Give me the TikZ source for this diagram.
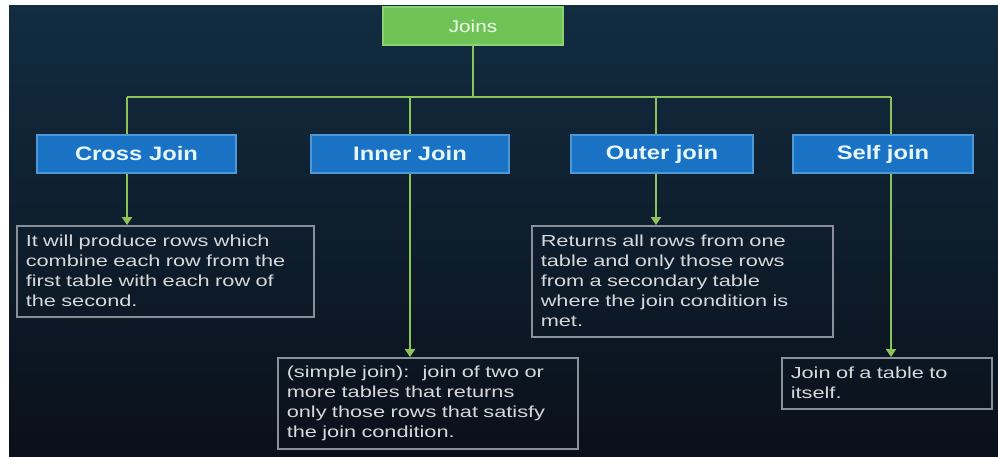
\documentclass[tikz,border=0pt]{standalone}
\usepackage{fontspec}
\setmainfont{Liberation Sans}
\newfontfamily\headfont{Liberation Sans}[FakeStretch=1.22]
\newfontfamily\descfont{Liberation Sans}[FakeStretch=1.36]
\usepackage{tikz}
\usetikzlibrary{arrows.meta}

\definecolor{bgtop}{HTML}{122C40}
\definecolor{bgmid}{HTML}{0F1F2D}
\definecolor{bgbot}{HTML}{0A101A}
\definecolor{linkgreen}{HTML}{8CC45A}
\definecolor{titlefill}{HTML}{70C457}
\definecolor{titledraw}{HTML}{8CD270}
\definecolor{typefill}{HTML}{1A72C4}
\definecolor{typedraw}{HTML}{4F98D6}
\definecolor{descdraw}{HTML}{8A9099}
\definecolor{desctext}{HTML}{D6D8DA}

\tikzset{
  link/.style={draw=linkgreen,line width=2pt},
  titlebox/.style={rectangle,fill=titlefill,draw=titledraw,line width=1.2pt,
    minimum width=180pt,minimum height=38pt,text=white!92!green,
    font=\headfont\fontsize{17}{20}\selectfont},
  typebox/.style={rectangle,fill=typefill,draw=typedraw,line width=1.5pt,
    minimum height=38pt,text=white!90!cyan,
    font=\headfont\bfseries\fontsize{19.5}{22}\selectfont},
  descbox/.style={rectangle,draw=descdraw,line width=1.5pt,anchor=north west,
    inner xsep=9pt,inner ysep=0pt,align=left,text=desctext,
    font=\descfont\fontsize{16}{20}\selectfont}
}

\begin{document}
\begin{tikzpicture}[>={Triangle[width=10pt,length=8pt]},x=1pt,y=-1pt]
  % Canvas
  \useasboundingbox (0,0) rectangle (998,457);
  \fill[white] (0,0) rectangle (998,457);
  \shade[top color=bgtop,middle color=bgmid,bottom color=bgbot]
    (9,6) rectangle (998,457);
  %
  % Drop points on the bus
  \coordinate (dCross) at (127,97);
  \coordinate (dInner) at (410,97);
  \coordinate (dOuter) at (656,97);
  \coordinate (dSelf)  at (891,97);
  %
  % Boxes
  \node[titlebox] (joins) at (473,26) {Joins};
  \node[typebox,minimum width=199pt] (cross) at (136.5,154) {Cross Join};
  \node[typebox,minimum width=198pt] (inner) at (410,154) {Inner Join};
  \node[typebox,minimum width=182pt] (outer) at (662,154) {Outer join};
  \node[typebox,minimum width=180pt] (self)  at (883,154) {Self join};
  %
  % Descriptions
  \node[descbox,text width=279pt,minimum height=91pt] (crossd) at (16,225)
    {It will produce rows which\\combine each row from the\\first table with each row of\\the second.};
  \node[descbox,text width=282pt,minimum height=91pt] (innerd) at (277,357)
    {(simple join):~ join of two or\\more tables that returns\\only those rows that satisfy\\the join condition.};
  \node[descbox,text width=283pt,minimum height=111pt] (outerd) at (531,225)
    {Returns all rows from one\\table and only those rows\\from a secondary table\\where the join condition is\\met.};
  \node[descbox,text width=192pt,minimum height=51pt] (selfd) at (781,357)
    {Join of a table to\\itself.};
  %
  % Tree lines
  \draw[link] (joins.south) -- (joins.south |- dCross);
  \draw[link] (dCross) -- (dSelf);
  \foreach \d/\b in {dCross/cross,dInner/inner,dOuter/outer,dSelf/self}
    \draw[link] (\d) -- (\d |- \b.north);
  %
  % Arrows to descriptions
  \foreach \d/\b in {dCross/cross,dInner/inner,dOuter/outer,dSelf/self}
    \draw[link,->] (\d |- \b.south) -- (\d |- \b d.north);
  %
\end{tikzpicture}
\end{document}
